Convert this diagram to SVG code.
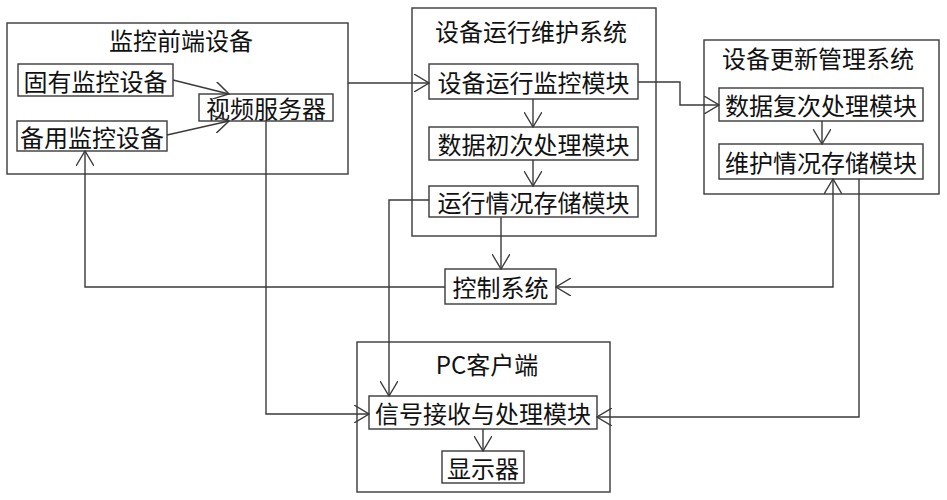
<svg xmlns="http://www.w3.org/2000/svg" width="947" height="500" viewBox="0 0 947 500">
<style>
.box{fill:#fff;stroke:#3a3a3a;stroke-width:1.4}
.t{font-family:"Noto Sans CJK SC","Liberation Sans",sans-serif;font-size:24px;fill:#111;text-anchor:middle;dominant-baseline:central}
.c{fill:none;stroke:#3a3a3a;stroke-width:1.4}
</style>
<defs>
<marker id="arr" viewBox="0 0 16 18" refX="15" refY="9" markerWidth="16" markerHeight="18" markerUnits="userSpaceOnUse" orient="auto-start-reverse">
<path d="M0,0 L15,9 L0,18" fill="none" stroke="#3a3a3a" stroke-width="1.4"/>
</marker>
</defs>
<rect width="947" height="500" fill="#fff"/>
<g id="frontend">
<rect class="box" x="7" y="23" width="341" height="151"/>
<text class="t" x="181" y="39">监控前端设备</text>
</g>
<g id="fixed-monitor">
<rect class="box" x="18" y="64" width="155" height="32"/>
<text class="t" x="95.5" y="80">固有监控设备</text>
</g>
<g id="backup-monitor">
<rect class="box" x="17" y="121" width="150" height="30"/>
<text class="t" x="92" y="136">备用监控设备</text>
</g>
<g id="video-server">
<rect class="box" x="199" y="94" width="134" height="27"/>
<text class="t" x="266" y="107.5">视频服务器</text>
</g>
<g id="maintenance-system">
<rect class="box" x="412" y="8" width="244" height="228"/>
<text class="t" x="531" y="30">设备运行维护系统</text>
</g>
<g id="run-monitor">
<rect class="box" x="429" y="64" width="209" height="35"/>
<text class="t" x="533.5" y="81.5">设备运行监控模块</text>
</g>
<g id="data-first">
<rect class="box" x="429" y="127" width="209" height="33"/>
<text class="t" x="533.5" y="143.5">数据初次处理模块</text>
</g>
<g id="run-storage">
<rect class="box" x="429" y="186" width="209" height="31"/>
<text class="t" x="533.5" y="201.5">运行情况存储模块</text>
</g>
<g id="update-system">
<rect class="box" x="704" y="40" width="235" height="154"/>
<text class="t" x="818" y="57">设备更新管理系统</text>
</g>
<g id="data-second">
<rect class="box" x="719" y="88" width="204" height="33"/>
<text class="t" x="821" y="104.5">数据复次处理模块</text>
</g>
<g id="maint-storage">
<rect class="box" x="719" y="144" width="204" height="35"/>
<text class="t" x="821" y="161.5">维护情况存储模块</text>
</g>
<g id="control">
<rect class="box" x="445" y="269" width="111" height="35"/>
<text class="t" x="500.5" y="286.5">控制系统</text>
</g>
<g id="pc-client">
<rect class="box" x="357" y="342" width="253" height="150"/>
<text class="t" x="487" y="363">PC客户端</text>
</g>
<g id="signal">
<rect class="box" x="369" y="396" width="228" height="33"/>
<text class="t" x="483" y="412.5">信号接收与处理模块</text>
</g>
<g id="display">
<rect class="box" x="442" y="451" width="82" height="32"/>
<text class="t" x="483" y="467">显示器</text>
</g>
<g id="connectors">
<path class="c" d="M173,80 L229,94" marker-end="url(#arr)"/>
<path class="c" d="M167,135 L229,121" marker-end="url(#arr)"/>
<path class="c" d="M445,287 H85 V151" marker-end="url(#arr)"/>
<path class="c" d="M266,121 V414 H369" marker-end="url(#arr)"/>
<path class="c" d="M348,83 H429" marker-end="url(#arr)"/>
<path class="c" d="M533,99 V127" marker-end="url(#arr)"/>
<path class="c" d="M533,160 V186" marker-end="url(#arr)"/>
<path class="c" d="M429,200 H389 V396" marker-end="url(#arr)"/>
<path class="c" d="M501,217 V269" marker-end="url(#arr)"/>
<path class="c" d="M638,82 H680 V105 H719" marker-end="url(#arr)"/>
<path class="c" d="M822,121 V144" marker-end="url(#arr)"/>
<path class="c" d="M556,287 H833 V179" marker-start="url(#arr)" marker-end="url(#arr)"/>
<path class="c" d="M859,179 V417 H597" marker-end="url(#arr)"/>
<path class="c" d="M483,429 V451" marker-end="url(#arr)"/>
</g>
</svg>
